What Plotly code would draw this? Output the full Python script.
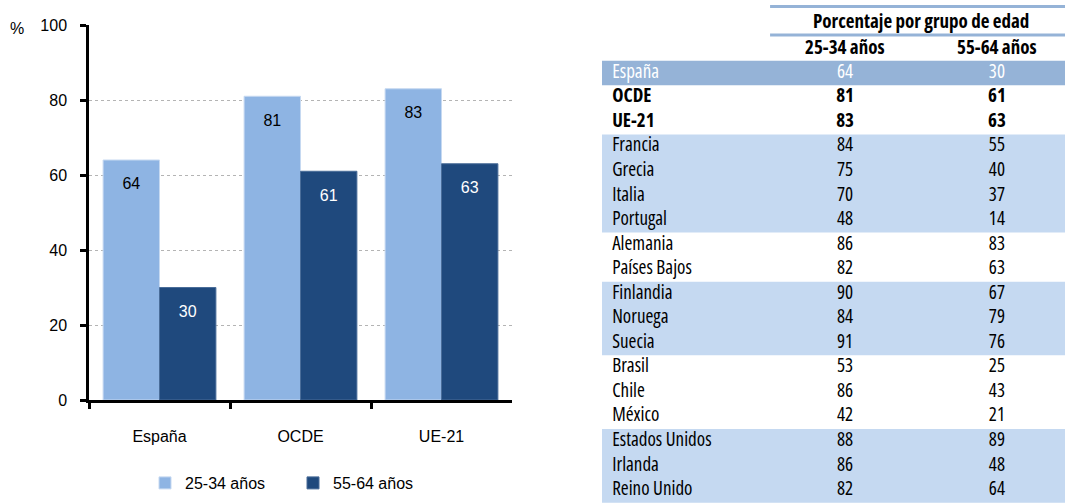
import plotly.graph_objects as go

# datos del gráfico
categorias = ["España", "OCDE", "UE-21"]
jovenes = [64, 81, 83]      # 25-34 años
mayores = [30, 61, 63]      # 55-64 años

# datos de la tabla
paises = ["España", "OCDE", "UE-21", "Francia", "Grecia", "Italia", "Portugal",
          "Alemania", "Países Bajos", "Finlandia", "Noruega", "Suecia",
          "Brasil", "Chile", "México", "Estados Unidos", "Irlanda", "Reino Unido"]
tabla_25_34 = [64, 81, 83, 84, 75, 70, 48, 86, 82, 90, 84, 91, 53, 86, 42, 88, 86, 82]
tabla_55_64 = [30, 61, 63, 55, 40, 37, 14, 83, 63, 67, 79, 76, 25, 43, 21, 89, 48, 64]

# estilo de la tabla: bandas (fila inicial, fila final, color) y filas en negrita
bandas = [(0, 0, "#95b3d7"), (3, 6, "#c5d9f1"), (9, 11, "#c5d9f1"), (15, 17, "#c5d9f1")]
negrita = ["OCDE", "UE-21"]

CLARO = "#8eb4e3"
OSCURO = "#1f497d"
FUENTE = "Arial, Liberation Sans, sans-serif"
ESTRECHA = "Open Sans, Liberation Sans, sans-serif"


def estrecho(t, bold=False):
    t = "<b>%s</b>" % t if bold else str(t)
    return "<span style='font-stretch:85%%'>%s</span>" % t


fig = go.Figure()
fig.add_trace(go.Bar(x=categorias, y=jovenes, name="25-34 años", marker_color=CLARO,
                     marker_line=dict(color="#c6d9f1", width=1), hoverinfo="skip"))
fig.add_trace(go.Bar(x=categorias, y=mayores, name="55-64 años", marker_color=OSCURO,
                     marker_line=dict(color="#4a6d99", width=1), hoverinfo="skip"))
# etiquetas dentro de las barras
fig.add_trace(go.Scatter(x=categorias, y=jovenes, mode="markers+text", text=jovenes,
                         textposition="bottom center", marker=dict(size=26, opacity=0),
                         textfont=dict(family=FUENTE, size=16, color="black"),
                         showlegend=False, hoverinfo="skip"))
fig.add_trace(go.Scatter(x=categorias, y=mayores, mode="markers+text", text=mayores,
                         textposition="bottom center", marker=dict(size=26, opacity=0),
                         textfont=dict(family=FUENTE, size=16, color="white"),
                         showlegend=False, hoverinfo="skip"))

# tabla
colores = ["white" if i == 0 else "black" for i in range(len(paises))]
filas = list(range(len(paises)))
columnas = [
    (0.022, "middle right", [estrecho(p, p in negrita) for p in paises]),
    (0.525, "middle center", [estrecho(v, p in negrita) for p, v in zip(paises, tabla_25_34)]),
    (0.853, "middle center", [estrecho(v, p in negrita) for p, v in zip(paises, tabla_55_64)]),
]
for xc, pos, textos in columnas:
    fig.add_trace(go.Scatter(x=[xc] * len(paises), y=filas, mode="text", text=textos,
                             textposition=pos, cliponaxis=False,
                             textfont=dict(family=ESTRECHA, size=19, color=colores),
                             offsetgroup="tabla", alignmentgroup="tabla",
                             xaxis="x2", yaxis="y2", showlegend=False, hoverinfo="skip"))

shapes = []
for ini, fin, col in bandas:
    shapes.append(dict(type="rect", xref="x2", yref="y2", x0=-0.01, x1=1.0,
                       y0=ini - 0.5, y1=fin + 0.5, fillcolor=col, line_width=0, layer="below"))
for yl in [-2.71, -1.55]:
    shapes.append(dict(type="line", xref="x2", yref="y2", x0=0.363, x1=1.0, y0=yl, y1=yl,
                       line=dict(color="#95b3d7", width=3)))

annotations = [
    dict(text="%", xref="paper", yref="paper", x=17 / 1065, y=(504 - 28) / 504,
         xanchor="center", yanchor="middle",
         showarrow=False, font=dict(family=FUENTE, size=16, color="black")),
    dict(text=estrecho("Porcentaje por grupo de edad", True), xref="x2", yref="y2", x=0.689, y=-2.1,
         showarrow=False, font=dict(family=ESTRECHA, size=19, color="black")),
    dict(text=estrecho("25-34 años", True), xref="x2", yref="y2", x=0.525, y=-1.07,
         showarrow=False, font=dict(family=ESTRECHA, size=19, color="black")),
    dict(text=estrecho("55-64 años", True), xref="x2", yref="y2", x=0.853, y=-1.07,
         showarrow=False, font=dict(family=ESTRECHA, size=19, color="black")),
]

fig.update_layout(
    width=1065, height=504, margin=dict(l=0, r=0, t=0, b=0),
    paper_bgcolor="white", plot_bgcolor="white",
    barmode="group", bargap=0.2, bargroupgap=0,
    scattermode="group", scattergap=0.2,
    font=dict(family=FUENTE, size=16, color="black"),
    xaxis=dict(domain=[89 / 1065, 512 / 1065], showline=True, linecolor="black", linewidth=2.5,
               ticks="outside", tickson="boundaries", ticklen=6, tickwidth=2.5, tickcolor="black",
               ticklabelstandoff=20, showgrid=False, tickfont=dict(size=16), fixedrange=True,
               automargin=False),
    yaxis=dict(domain=[(504 - 400) / 504, (504 - 25) / 504], range=[0, 100], dtick=20,
               showline=True, linecolor="black", linewidth=2.5, ticks="outside", ticklen=6,
               tickwidth=2.5, tickcolor="black", ticklabelstandoff=10, zeroline=False,
               showgrid=True, gridcolor="#b4b4b4", griddash="dot", gridwidth=1,
               tickfont=dict(size=16), fixedrange=True, automargin=False),
    xaxis2=dict(domain=[602 / 1065, 1], range=[0, 1], visible=False, anchor="y2", fixedrange=True),
    yaxis2=dict(domain=[0, 1], range=[17.556, -2.974], visible=False, anchor="x2", fixedrange=True),
    legend=dict(orientation="h", x=145 / 1065, xanchor="left", y=(504 - 483) / 504,
                yanchor="middle", font=dict(family=FUENTE, size=16), entrywidth=103,
                bgcolor="rgba(0,0,0,0)"),
    shapes=shapes, annotations=annotations,
)

fig.write_html("out.html", config={"displayModeBar": False},
               post_script="document.body.style.margin='0';")
